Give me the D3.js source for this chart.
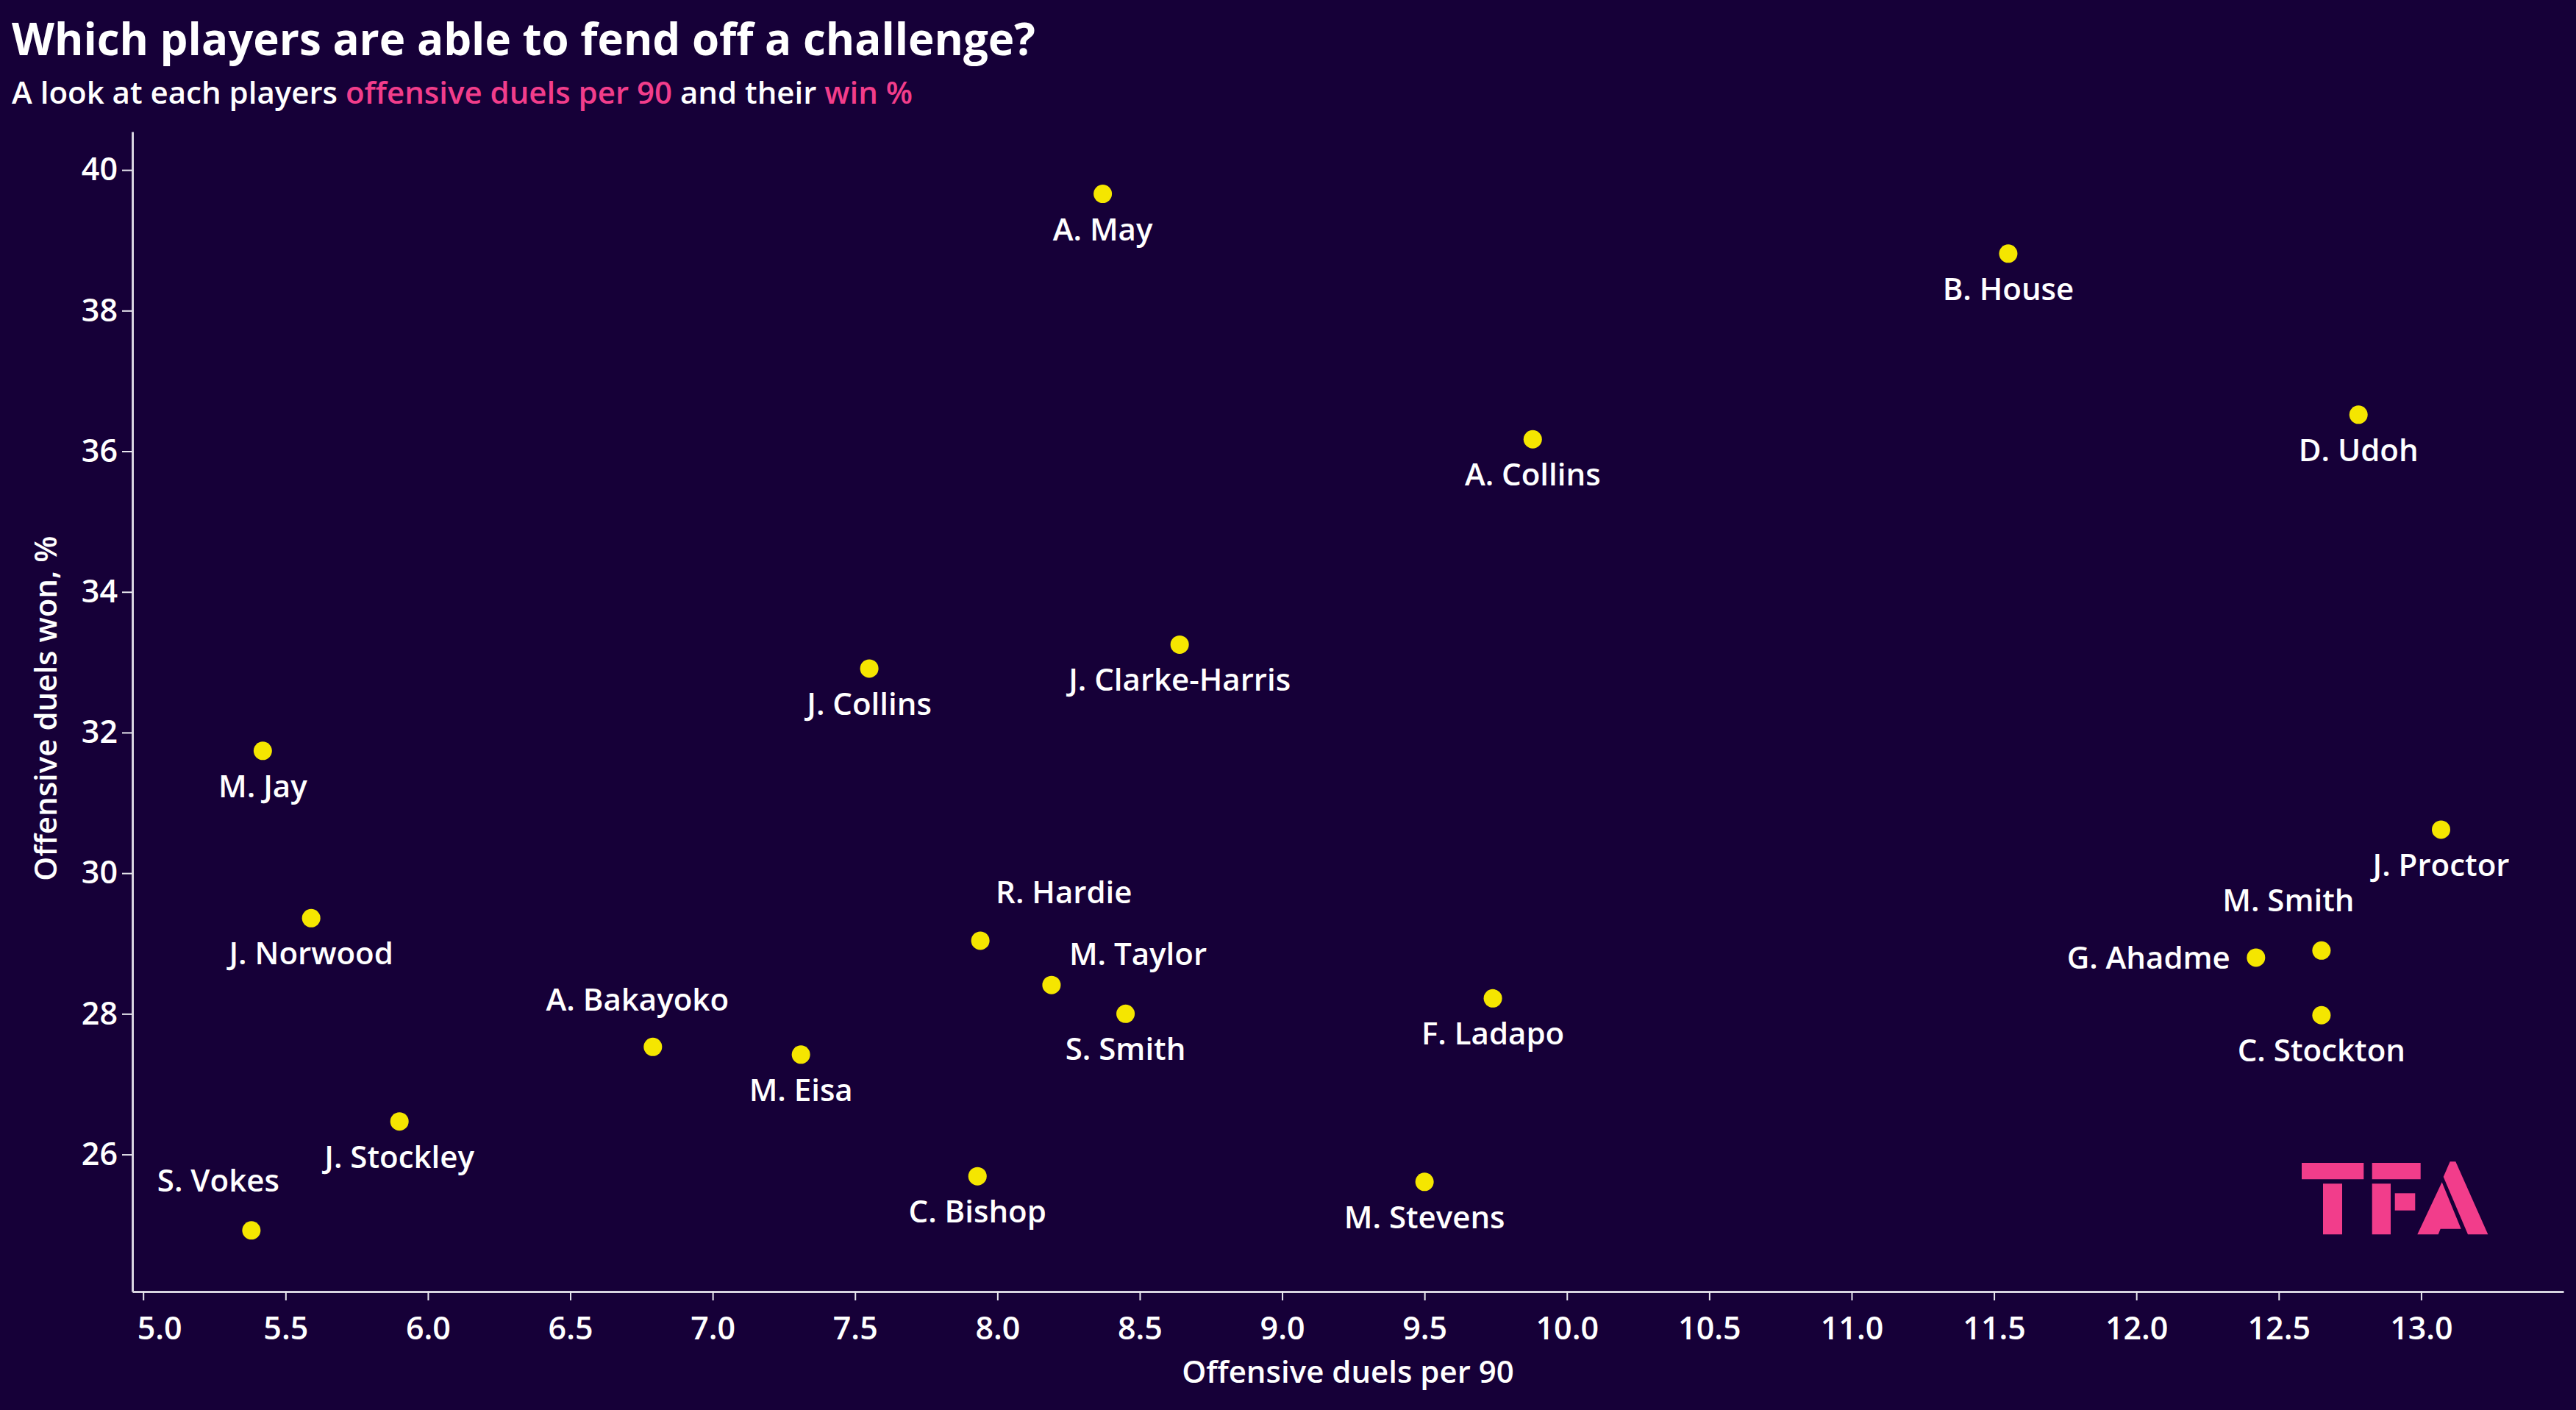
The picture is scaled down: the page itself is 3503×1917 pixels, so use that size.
<!DOCTYPE html>
<html>
<head>
<meta charset="utf-8">
<script src="https://cdn.jsdelivr.net/npm/d3@7"></script>
<style>
  html, body { margin: 0; padding: 0; background: #160038; }
  svg { display: block; }
</style>
</head>
<body>
<svg id="chart" width="3503" height="1917"></svg>
<script>
// ---- data ----
const players = [
  "A. May", "B. House", "D. Udoh", "A. Collins", "J. Clarke-Harris", "J. Collins",
  "M. Jay", "J. Proctor", "J. Norwood", "R. Hardie", "M. Smith", "G. Ahadme",
  "M. Taylor", "F. Ladapo", "S. Smith", "C. Stockton", "A. Bakayoko", "M. Eisa",
  "J. Stockley", "C. Bishop", "M. Stevens", "S. Vokes"
];
const duelsPer90 = [
  8.37, 11.55, 12.78, 9.88, 8.64, 7.55,
  5.42, 13.07, 5.59, 7.94, 12.65, 12.42,
  8.19, 9.74, 8.45, 12.65, 6.79, 7.31,
  5.90, 7.93, 9.50, 5.38
];
const duelsWonPct = [
  39.66, 38.81, 36.52, 36.17, 33.25, 32.91,
  31.74, 30.62, 29.36, 29.04, 28.90, 28.80,
  28.41, 28.22, 28.00, 27.98, 27.53, 27.42,
  26.47, 25.69, 25.61, 24.92
];
const labelPlacement = [
  "below", "below", "below", "below", "below", "below",
  "below", "below", "below", "aboveRight", "aboveLeft", "left",
  "upRight", "below", "below", "below", "above", "below",
  "below", "below", "below", "aboveLeft"
];
const xTickValues = [5.0, 5.5, 6.0, 6.5, 7.0, 7.5, 8.0, 8.5, 9.0, 9.5, 10.0, 10.5, 11.0, 11.5, 12.0, 12.5, 13.0];
const yTickValues = [26, 28, 30, 32, 34, 36, 38, 40];

const titleText = "Which players are able to fend off a challenge?";
const subtitleParts = [
  { text: "A look at each players ", accent: false },
  { text: "offensive duels per 90", accent: true },
  { text: " and their ", accent: false },
  { text: "win %", accent: true }
];
const xAxisTitle = "Offensive duels per 90";
const yAxisTitle = "Offensive duels won, %";

// ---- style ----
const BG = "#160038";
const PINK = "#f23d8b";
const YELLOW = "#f5e600";
const FONT = "'Open Sans', 'Noto Sans', sans-serif";

const placements = {
  below:      { anchor: "middle", dx: 0,   dy: 63 },
  above:      { anchor: "middle", dx: -21, dy: -49 },
  aboveLeft:  { anchor: "middle", dx: -45, dy: -53 },
  aboveRight: { anchor: "start",  dx: 21,  dy: -51 },
  upRight:    { anchor: "start",  dx: 24,  dy: -27 },
  left:       { anchor: "end",    dx: -35, dy: 15 }
};

const svg = d3.select("#chart");
svg.append("rect").attr("width", 3503).attr("height", 1917).attr("fill", BG);

const plot = { left: 180, right: 3486, top: 179, bottom: 1756 };

const x = d3.scaleLinear().domain([4.962, 13.5]).range([plot.left, plot.right]);
const y = d3.scaleLinear().domain([24.05, 40.545]).range([plot.bottom, plot.top]);

// ---- title ----
svg.append("text")
  .attr("x", 16).attr("y", 75)
  .attr("font-family", FONT).attr("font-weight", 700).attr("font-size", 60)
  .attr("fill", "#ffffff")
  .text(titleText);

const sub = svg.append("text")
  .attr("x", 16).attr("y", 141)
  .attr("font-family", FONT).attr("font-weight", 600).attr("font-size", 42);
sub.selectAll("tspan").data(subtitleParts).join("tspan")
  .attr("fill", d => d.accent ? PINK : "#ffffff")
  .text(d => d.text);

// ---- axes ----
const xAxis = svg.append("g")
  .attr("transform", `translate(0,${plot.bottom})`)
  .call(d3.axisBottom(x).tickValues(xTickValues).tickFormat(d3.format(".1f"))
    .tickSize(12).tickSizeOuter(0).tickPadding(22));
const yAxis = svg.append("g")
  .attr("transform", `translate(${plot.left},0)`)
  .call(d3.axisLeft(y).tickValues(yTickValues).tickFormat(d3.format("d"))
    .tickSize(14).tickSizeOuter(0).tickPadding(6));

[xAxis, yAxis].forEach(g => {
  g.select(".domain").attr("stroke", "#d8d4e0").attr("stroke-width", 3);
  g.selectAll(".tick line").attr("stroke", "#e8e6ee").attr("stroke-width", 2);
  g.selectAll(".tick text")
    .attr("fill", "#ffffff")
    .attr("font-family", FONT).attr("font-weight", 600).attr("font-size", 43);
});
// first x label nudged right of the corner, as in the original
xAxis.selectAll(".tick text").filter(d => d === xTickValues[0]).attr("dx", 22);

svg.append("text")
  .attr("x", (plot.left + plot.right) / 2).attr("y", 1880)
  .attr("text-anchor", "middle")
  .attr("font-family", FONT).attr("font-weight", 600).attr("font-size", 42)
  .attr("fill", "#ffffff")
  .text(xAxisTitle);

svg.append("text")
  .attr("transform", `translate(77,963) rotate(-90)`)
  .attr("text-anchor", "middle")
  .attr("font-family", FONT).attr("font-weight", 600).attr("font-size", 42)
  .attr("fill", "#ffffff")
  .text(yAxisTitle);

// ---- points ----
const data = players.map((name, i) => ({
  name, xv: duelsPer90[i], yv: duelsWonPct[i], place: placements[labelPlacement[i]]
}));

svg.append("g").selectAll("circle").data(data).join("circle")
  .attr("cx", d => x(d.xv))
  .attr("cy", d => y(d.yv))
  .attr("r", 12.5)
  .attr("fill", YELLOW);

svg.append("g").selectAll("text").data(data).join("text")
  .attr("x", d => x(d.xv) + d.place.dx)
  .attr("y", d => y(d.yv) + d.place.dy)
  .attr("text-anchor", d => d.place.anchor)
  .attr("font-family", FONT).attr("font-weight", 600).attr("font-size", 42)
  .attr("fill", "#ffffff")
  .text(d => d.name);

// ---- TFA logo ----
const logo = svg.append("g").attr("transform", "translate(3050,1530)").attr("fill", PINK);
const logoShapes = [
  [[80,51],[164.3,51],[164.3,73.3],[80,73.3]],
  [[109,79.3],[135,79.3],[135,148.3],[109,148.3]],
  [[175.7,51],[241.7,51],[241.7,73.3],[175.7,73.3]],
  [[175.7,79.3],[201,79.3],[201,148.3],[175.7,148.3]],
  [[206.7,92.3],[234.3,92.3],[234.3,115.7],[206.7,115.7]],
  [[281.7,49.3],[289.3,49.3],[333.3,148.3],[306,148.3],[272.7,70]],
  [[270.7,77.3],[296.7,140.7],[268.7,140.7],[265.7,148.3],[237.3,148.3]]
];
logo.selectAll("polygon").data(logoShapes).join("polygon")
  .attr("points", d => d.map(p => p.join(",")).join(" "));
</script>
</body>
</html>
